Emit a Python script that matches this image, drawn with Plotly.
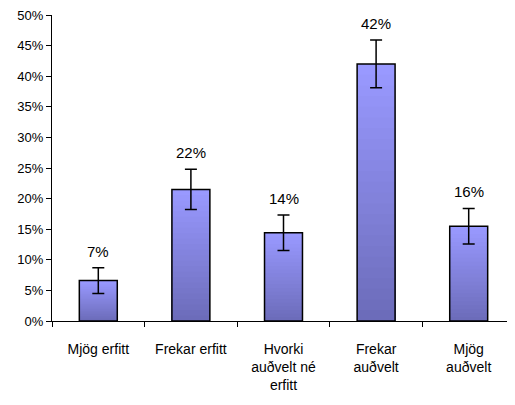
import plotly.graph_objects as go

categories = ["Mjög erfitt", "Frekar erfitt", "Hvorki<br>auðvelt né<br>erfitt", "Frekar<br>auðvelt", "Mjög<br>auðvelt"]
values = [0.066, 0.215, 0.144, 0.420, 0.155]
errors = [0.021, 0.033, 0.029, 0.039, 0.029]
labels = ["7%", "22%", "14%", "42%", "16%"]

top_rgb = (153, 153, 255)
bottom_rgb = (108, 108, 186)
N = 24

fig = go.Figure()
for k in range(N):
    t = k / (N - 1)
    c = tuple(round(top_rgb[i] + (bottom_rgb[i] - top_rgb[i]) * t) for i in range(3))
    frac = (N - k) / N
    fig.add_trace(go.Bar(
        x=categories, y=[v * frac for v in values],
        marker=dict(color="rgb(%d,%d,%d)" % c, line=dict(width=0)),
        showlegend=False, hoverinfo="skip",
    ))

fig.add_trace(go.Bar(
    x=categories, y=values,
    marker=dict(color="rgba(0,0,0,0)", line=dict(color="black", width=1.5)),
    error_y=dict(type="data", array=errors, visible=True, color="black", thickness=1.5, width=6),
    showlegend=False, hoverinfo="skip",
))

for cat, v, e, lab in zip(categories, values, errors, labels):
    fig.add_annotation(x=cat, y=v + e, text=lab, showarrow=False,
                       yanchor="bottom", yshift=6,
                       font=dict(size=15, color="black"))

fig.update_layout(
    width=507, height=397,
    margin=dict(l=44, r=0, t=7, b=84),
    barmode="overlay", bargap=0.59,
    plot_bgcolor="white", paper_bgcolor="white",
    font=dict(family="Liberation Sans, Arial, sans-serif", color="black"),
    hovermode=False,
    xaxis=dict(showline=True, linecolor="black", linewidth=1, ticks="outside", tickson="boundaries",
               ticklen=5, tickcolor="black", tickfont=dict(size=14), showgrid=False, fixedrange=True,
               automargin=False, ticklabelstandoff=15),
    yaxis=dict(range=[0, 0.5], dtick=0.05, tickformat=".0%", showline=True, linecolor="black", linewidth=1,
               ticks="outside", ticklen=5, tickcolor="black", tickfont=dict(size=13), showgrid=False,
               zeroline=False, fixedrange=True, automargin=False, ticklabeloverflow="allow"),
)

fig.write_html("out.html")
